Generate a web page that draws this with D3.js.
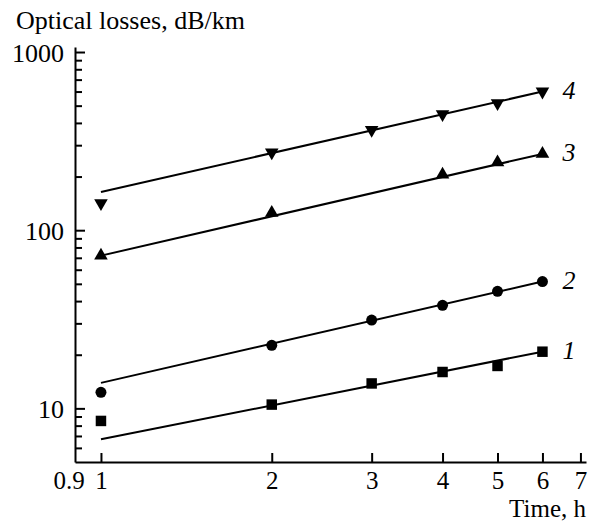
<!DOCTYPE html>
<html>
<head>
<meta charset="utf-8">
<script src="https://cdn.jsdelivr.net/npm/d3@7"></script>
<style>
  body { margin: 0; background: #fff; }
  text { font-family: "Liberation Serif", "Times New Roman", serif; }
</style>
</head>
<body>
<div id="chart"></div>
<script>
// measured points (time in hours, optical losses in dB/km)
var seriesNames = ["1", "2", "3", "4"];
var shapes = ["square", "circle", "triangleUp", "triangleDown"];

var times1 = [1, 2, 3, 4, 5, 6];
var losses1 = [8.5, 10.5, 13.8, 16.0, 17.3, 20.8];

var times2 = [1, 2, 3, 4, 5, 6];
var losses2 = [12.3, 22.6, 31.3, 37.9, 45.4, 51.5];

var times3 = [1, 2, 4, 5, 6];
var losses3 = [72, 125, 205, 240, 268];

var times4 = [1, 2, 3, 4, 5, 6];
var losses4 = [142, 273, 365, 448, 516, 600];

// fitted straight lines (log-log), values at t = 1 h and t = 6 h
var fitTimes = [1, 6];
var fitStart = [6.7, 13.9, 72, 164];
var fitEnd = [20.8, 51.5, 268, 600];

var xTicks = [1, 2, 3, 4, 5, 6, 7];
var yTicks = [10, 100, 1000];
var yMinor = [6, 7, 8, 9, 20, 30, 40, 50, 60, 70, 80, 90, 200, 300, 400, 500, 600, 700, 800, 900];

var width = 596, height = 521;
var fontSize = 26;

var svg = d3.select("#chart").append("svg")
    .attr("width", width)
    .attr("height", height);

var x = d3.scaleLog().domain([0.9, 7.16]).range([75, 586]);
var y = d3.scaleLog().domain([5, 1067]).range([462, 47]);

var series = [
    {name: seriesNames[0], shape: shapes[0], t: times1, v: losses1},
    {name: seriesNames[1], shape: shapes[1], t: times2, v: losses2},
    {name: seriesNames[2], shape: shapes[2], t: times3, v: losses3},
    {name: seriesNames[3], shape: shapes[3], t: times4, v: losses4}
];

// axes
var yAxis = svg.append("g")
    .attr("transform", "translate(" + x(0.9) + ",0)")
    .call(d3.axisLeft(y).tickValues(yTicks).tickSizeInner(-10).tickSizeOuter(0)
        .tickPadding(11).tickFormat(d3.format("d")));

var yAxisMinor = svg.append("g")
    .attr("transform", "translate(" + x(0.9) + ",0)")
    .call(d3.axisLeft(y).tickValues(yMinor).tickSizeInner(-7).tickSizeOuter(0).tickFormat(""));
yAxisMinor.select(".domain").remove();

var xAxis = svg.append("g")
    .attr("transform", "translate(0," + y(5) + ")")
    .call(d3.axisBottom(x).tickValues(xTicks).tickSizeInner(-9).tickSizeOuter(0)
        .tickPadding(8.75).tickFormat(d3.format("d")));

// lone 0.9 label at the corner
xAxis.append("text")
    .attr("x", x(0.9) - 6)
    .attr("y", 8.75)
    .attr("dy", "0.71em")
    .attr("text-anchor", "middle")
    .attr("fill", "#000")
    .text("0.9");

svg.selectAll(".domain, .tick line")
    .attr("stroke", "#000")
    .attr("stroke-width", 2);

svg.selectAll("g text")
    .attr("font-family", "Liberation Serif, Times New Roman, serif")
    .attr("fill", "#000");
yAxis.attr("font-family", null).attr("font-size", null);
xAxis.attr("font-family", null).attr("font-size", null);
yAxis.selectAll("text").attr("font-size", fontSize).attr("dy", "0.35em");
xAxis.selectAll("text").attr("font-size", 25);

// axis titles
svg.append("text")
    .attr("x", 16)
    .attr("y", 29)
    .attr("font-size", fontSize)
    .text("Optical losses, dB/km");

svg.append("text")
    .attr("x", 586)
    .attr("y", 516.5)
    .attr("text-anchor", "end")
    .attr("font-size", 25)
    .text("Time, h");

// fit lines
svg.selectAll(".fit")
    .data(series)
  .enter().append("line")
    .attr("class", "fit")
    .attr("x1", x(fitTimes[0]))
    .attr("x2", x(fitTimes[1]))
    .attr("y1", function(d, i) { return y(fitStart[i]); })
    .attr("y2", function(d, i) { return y(fitEnd[i]); })
    .attr("stroke", "#000")
    .attr("stroke-width", 2);

// markers
var symbolOf = {
    square: d3.symbol().type(d3.symbolSquare).size(110),
    circle: d3.symbol().type(d3.symbolCircle).size(95),
    triangleUp: d3.symbol().type(d3.symbolTriangle).size(80),
    triangleDown: d3.symbol().type(d3.symbolTriangle).size(80)
};

series.forEach(function(s) {
    var pts = s.t.map(function(t, i) { return {t: t, v: s.v[i]}; });
    svg.append("g").selectAll("path")
        .data(pts)
      .enter().append("path")
        .attr("d", symbolOf[s.shape]())
        .attr("transform", function(d) {
            return "translate(" + x(d.t) + "," + y(d.v) + ")" +
                (s.shape == "triangleDown" ? " rotate(180)" : "");
        })
        .attr("fill", "#000");

    // series number next to the last point
    var last = pts[pts.length - 1];
    svg.append("text")
        .attr("x", x(last.t) + 20)
        .attr("y", y(last.v) - 2)
        .attr("dy", "0.35em")
        .attr("font-size", fontSize)
        .attr("font-style", "italic")
        .text(s.name);
});
</script>
</body>
</html>
